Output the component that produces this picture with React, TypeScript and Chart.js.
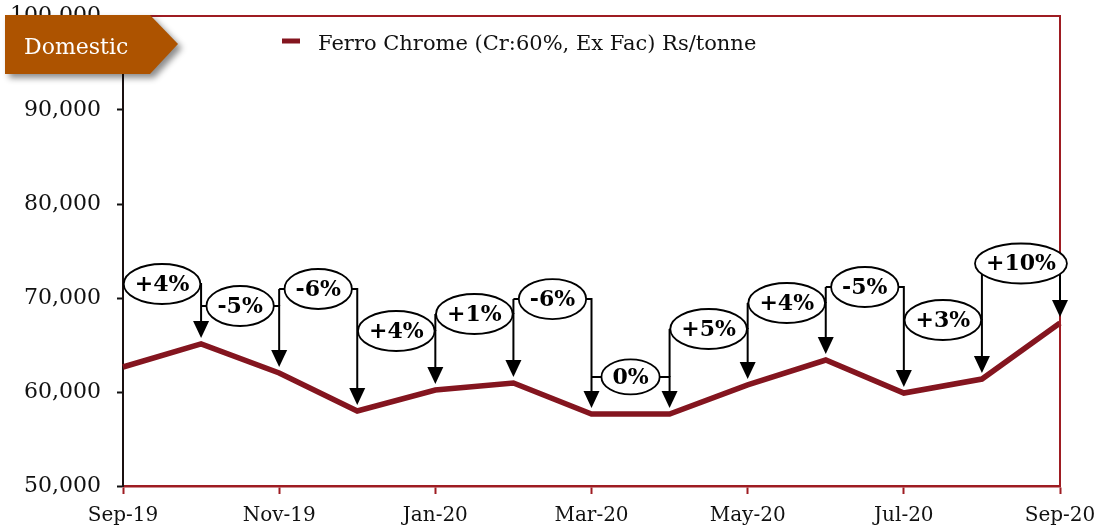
import React, { useEffect, useRef } from "react";
import { Chart, registerables } from "chart.js";

Chart.register(...registerables);

const categories = [
  "Sep-19", "Oct-19", "Nov-19", "Dec-19", "Jan-20", "Feb-20", "Mar-20",
  "Apr-20", "May-20", "Jun-20", "Jul-20", "Aug-20", "Sep-20",
];
const prices = [62660, 65110, 62020, 57980, 60210, 60960, 57660, 57660, 60750, 63400, 59890, 61380, 67340];
const changeLabels = ["+4%", "-5%", "-6%", "+4%", "+1%", "-6%", "0%", "+5%", "+4%", "-5%", "+3%", "+10%"];
// vertical anchor (in Rs/tonne on the value axis) of each change callout
const labelLevels = [71490, 69150, 70960, 66490, 68300, 69890, 61600, 66700, 69470, 71170, 67660, 73670];
const seriesName = "Ferro Chrome (Cr:60%, Ex Fac) Rs/tonne";
const tagText = "Domestic";
const yMin = 50000;
const yMax = 100000;
const yStep = 10000;

const FONT = "'DejaVu Serif', 'Liberation Serif', serif";
const LINE_COLOR = "#84151f";
const AXIS_RED = "#9e1c22";
const TAG_COLOR = "#ad5300";

const overlayPlugin = {
  id: "overlay",
  afterDatasetsDraw(chart: any) {
    const { ctx, chartArea } = chart;
    const x = chart.scales.x;
    const y = chart.scales.y;
    ctx.save();
    // top & right frame
    ctx.strokeStyle = AXIS_RED;
    ctx.lineWidth = 2;
    ctx.beginPath();
    ctx.moveTo(chartArea.left - 8, chartArea.top);
    ctx.lineTo(chartArea.right, chartArea.top);
    ctx.lineTo(chartArea.right, chartArea.bottom);
    ctx.stroke();

    // connectors + arrows
    ctx.strokeStyle = "#000";
    ctx.fillStyle = "#000";
    ctx.lineWidth = 2;
    for (let i = 1; i < prices.length; i++) {
      const x0 = x.getPixelForValue(i - 1);
      const x1 = x.getPixelForValue(i);
      const ly = y.getPixelForValue(labelLevels[i - 1]);
      const py = y.getPixelForValue(prices[i]);
      const tipY = py - 6;
      ctx.beginPath();
      ctx.moveTo(x0, ly);
      ctx.lineTo(x1, ly);
      ctx.lineTo(x1, tipY - 12);
      ctx.stroke();
      if (i > 1) {
        const prevLy = y.getPixelForValue(labelLevels[i - 2]);
        if (ly < prevLy) {
          ctx.beginPath();
          ctx.moveTo(x0, ly);
          ctx.lineTo(x0, prevLy);
          ctx.stroke();
        }
      }
      ctx.beginPath();
      ctx.moveTo(x1 - 8, tipY - 17);
      ctx.lineTo(x1 + 8, tipY - 17);
      ctx.lineTo(x1, tipY);
      ctx.closePath();
      ctx.fill();
    }

    // ellipses with labels
    ctx.font = `bold 22px ${FONT}`;
    ctx.textAlign = "center";
    ctx.textBaseline = "middle";
    for (let i = 1; i < prices.length; i++) {
      const x0 = x.getPixelForValue(i - 1);
      const x1 = x.getPixelForValue(i);
      const cx = (x0 + x1) / 2;
      const cy = y.getPixelForValue(labelLevels[i - 1]);
      const txt = changeLabels[i - 1];
      const w = ctx.measureText(txt).width + 22;
      const h = txt === "0%" ? 35 : 40;
      ctx.beginPath();
      ctx.ellipse(cx, cy, w / 2, h / 2, 0, 0, Math.PI * 2);
      ctx.fillStyle = "#fff";
      ctx.fill();
      ctx.lineWidth = 1.8;
      ctx.strokeStyle = "#000";
      ctx.stroke();
      ctx.fillStyle = "#000";
      ctx.fillText(txt, cx, cy + 1);
    }
    ctx.restore();
  },
  afterDraw(chart: any) {
    const { ctx } = chart;
    ctx.save();
    // legend
    ctx.strokeStyle = LINE_COLOR;
    ctx.lineWidth = 5;
    ctx.beginPath();
    ctx.moveTo(282, 41);
    ctx.lineTo(300, 41);
    ctx.stroke();
    ctx.fillStyle = "#111";
    ctx.font = `21px ${FONT}`;
    ctx.textAlign = "left";
    ctx.textBaseline = "alphabetic";
    ctx.fillText(seriesName, 318, 50);

    // Domestic tag
    ctx.save();
    ctx.shadowColor = "rgba(0,0,0,0.45)";
    ctx.shadowBlur = 6;
    ctx.shadowOffsetX = 4;
    ctx.shadowOffsetY = 4;
    ctx.fillStyle = TAG_COLOR;
    ctx.beginPath();
    ctx.moveTo(5, 15);
    ctx.lineTo(150, 15);
    ctx.lineTo(178, 44);
    ctx.lineTo(150, 74);
    ctx.lineTo(5, 74);
    ctx.closePath();
    ctx.fill();
    ctx.restore();
    ctx.fillStyle = "#fff";
    ctx.font = `22px ${FONT}`;
    ctx.textBaseline = "alphabetic";
    ctx.fillText(tagText, 24, 54);
    ctx.restore();
  },
};

export default function App() {
  const ref = useRef<HTMLCanvasElement | null>(null);
  useEffect(() => {
    if (!ref.current) return;
    const chart = new Chart(ref.current, {
      type: "line",
      data: {
        labels: categories,
        datasets: [
          {
            label: seriesName,
            data: prices,
            borderColor: LINE_COLOR,
            borderWidth: 5.5,
            pointRadius: 0,
            tension: 0,
            fill: false,
          },
        ],
      },
      options: {
        responsive: false,
        animation: false,
        layout: { padding: { left: 0, right: 38, top: 16, bottom: 0 } },
        plugins: { legend: { display: false }, tooltip: { enabled: false } },
        scales: {
          x: {
            type: "category",
            offset: false,
            afterFit: (s: any) => {
              s.height = 43;
              s.paddingLeft = 0;
              s.paddingRight = 0;
            },
            border: { color: AXIS_RED, width: 2.5 },
            grid: {
              drawOnChartArea: false,
              tickLength: 8,
              tickWidth: 2,
              tickColor: (c: any) => (c.index % 2 === 0 ? AXIS_RED : "rgba(0,0,0,0)"),
            },
            ticks: {
              autoSkip: false,
              maxRotation: 0,
              padding: 10,
              color: "#111",
              font: { family: FONT, size: 20 },
              callback: (_v: any, i: number) => (i % 2 === 0 ? categories[i] : ""),
            },
          },
          y: {
            min: yMin,
            max: yMax,
            afterFit: (s: any) => {
              s.width = 123;
              s.paddingTop = 0;
              s.paddingBottom = 0;
            },
            border: { color: "#1a1010", width: 2 },
            grid: { drawOnChartArea: false, tickLength: 6, tickWidth: 2, tickColor: "#111" },
            ticks: {
              stepSize: yStep,
              padding: 16,
              color: "#111",
              font: { family: FONT, size: 22 },
              callback: (v: any) => Number(v).toLocaleString("en-US"),
            },
          },
        },
      },
      plugins: [overlayPlugin],
    });
    return () => chart.destroy();
  }, []);
  return (
    <div style={{ position: "fixed", left: 0, top: 0, width: 1098, height: 529, background: "#fff" }}>
      <canvas ref={ref} width={1098} height={529} style={{ width: 1098, height: 529 }} />
    </div>
  );
}
